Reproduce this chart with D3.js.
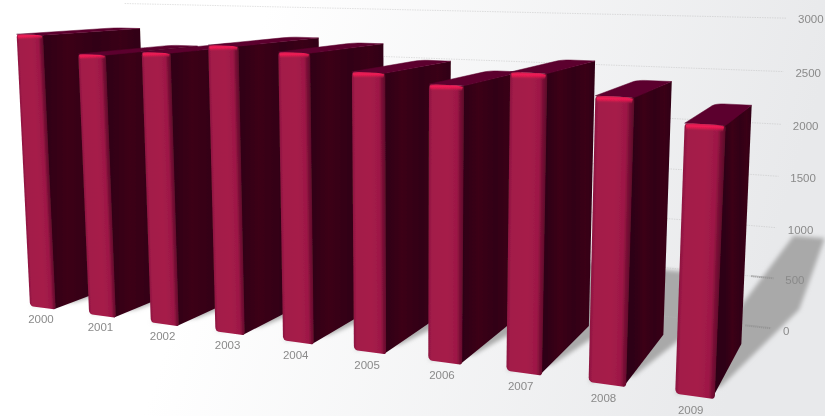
<!DOCTYPE html>
<html>
<head>
<meta charset="utf-8">
<script src="https://cdn.jsdelivr.net/npm/d3@7"></script>
<style>
  body { margin: 0; overflow: hidden; background: #fff; }
  text { font-family: "Liberation Sans", Arial, sans-serif; font-size: 11.5px; fill: #8a8a8a; }
</style>
</head>
<body>
<svg id="chart" width="825" height="416"></svg>
<script>
const years = ["2000", "2001", "2002", "2003", "2004", "2005", "2006", "2007", "2008", "2009"];
const values = [2740, 2572, 2615, 2702, 2664, 2516, 2439, 2571, 2408, 2225];
const ticks = [0, 500, 1000, 1500, 2000, 2500, 3000];
// how far back each floor shadow runs, and how much its far left corner leans
const shadowFar = [2.6, 2.6, 2.6, 2.6, 2.6, 2.6, 2.6, 2.6, 2.6, 4.2];
const shadowLean = [-0.06, -0.06, -0.06, -0.06, -0.06, -0.06, -0.06, -0.06, -0.06, 0.44];

const svg = d3.select("#chart");
const defs = svg.append("defs");

// category index, thousands, depth
const uScale = d3.scalePoint().domain(years).range([0, 9]);
const vScale = d3.scaleLinear().domain([0, 3000]).range([0, 3]);

// camera: a perspective view from low on the right
function project(u, v, d) {
  const w = 1 - 0.0215 * u - 0.01245 * v + 0.119 * d;
  return [
    (30 + 57.17 * u - 5.09 * v + 109.4 * d) / w,
    (306 + 1.28 * u - 99.6 * v - 2.97 * d) / w
  ];
}

const line = d3.line();
const barWidth = 0.44;
const barDepth = 1;
const wallDepth = 1.43;
const wallDrop = 1.5;

// rounded corner in chart space, sampled so it goes through the camera as well
function corner(cx, cy, rx, ry, from) {
  return d3.range(0, 1.01, 0.25).map((t) => {
    const a = from + (t * Math.PI) / 2;
    return [cx + rx * Math.cos(a), cy + ry * Math.sin(a)];
  });
}

// background
const bg = defs.append("linearGradient").attr("id", "bg")
  .attr("gradientUnits", "userSpaceOnUse")
  .attr("x1", 230).attr("y1", 130).attr("x2", 760).attr("y2", 290);
bg.append("stop").attr("offset", 0).attr("stop-color", "#ffffff");
bg.append("stop").attr("offset", 1).attr("stop-color", "#e8e9eb");
svg.append("rect").attr("width", 825).attr("height", 416).attr("fill", "url(#bg)");

defs.append("filter").attr("id", "blur")
  .attr("x", "-20%").attr("y", "-20%").attr("width", "140%").attr("height", "140%")
  .append("feGaussianBlur").attr("stdDeviation", 2.2);
defs.append("filter").attr("id", "soft")
  .append("feGaussianBlur").attr("stdDeviation", 0.4);

// shadows on the floor, thrown back and to the right
svg.append("g").attr("filter", "url(#blur)")
  .selectAll("path").data(years).enter().append("path")
  .attr("fill", "#a9a9a9")
  .attr("d", (y, i) => {
    const u = uScale(y);
    const far = shadowFar[i];
    return line([
      project(u, 0, 0),
      project(u + barWidth, 0, 0.2),
      project(u + 0.98, 0, 1.9),
      project(u + 0.98, 0, far),
      project(u + shadowLean[i], 0, far)
    ]) + "Z";
  });

// gridlines on the back wall
const axisEnd = 9.71;
const axisStart = -0.5;
const wallPoint = (u, t) => {
  const p = project(u, vScale(t), wallDepth);
  return [p[0], p[1] + wallDrop];
};
const gridLayer = svg.append("g").attr("filter", "url(#soft)");
gridLayer.selectAll("line").data(ticks).enter().append("line")
  .attr("stroke", "#b5b5b5")
  .attr("stroke-opacity", 0.4)
  .attr("stroke-dasharray", "1.5 1")
  .attr("x1", (t) => wallPoint(axisStart, t)[0])
  .attr("y1", (t) => wallPoint(axisStart, t)[1])
  .attr("x2", (t) => wallPoint(axisEnd, t)[0])
  .attr("y2", (t) => wallPoint(axisEnd, t)[1]);

// the lower lines go darker where they cross the shadow
const darkTicks = [0, 500];
const darkStarts = [9.37, 9.42];
gridLayer.selectAll("line.dark").data(darkTicks).enter().append("line")
  .attr("class", "dark")
  .attr("stroke", "#8e8e8e")
  .attr("stroke-width", 2)
  .attr("stroke-dasharray", "1 1")
  .attr("x1", (t, i) => wallPoint(darkStarts[i], t)[0])
  .attr("y1", (t, i) => wallPoint(darkStarts[i], t)[1])
  .attr("x2", (t) => wallPoint(axisEnd, t)[0])
  .attr("y2", (t) => wallPoint(axisEnd, t)[1]);

svg.append("g").attr("filter", "url(#soft)")
  .selectAll("text").data(ticks).enter().append("text")
  .attr("x", (t) => wallPoint(axisEnd + 0.15, t)[0])
  .attr("y", (t) => wallPoint(axisEnd + 0.15, t)[1] + 5)
  .text((t) => t);

// bars, left to right so each one covers the side of the one before
const bars = svg.append("g").attr("filter", "url(#soft)")
  .selectAll("g").data(years).enter().append("g");

bars.each(function (y, i) {
  const g = d3.select(this);
  const u0 = uScale(y);
  const u1 = u0 + barWidth;
  const v = vScale(values[i]);
  const du = barWidth;

  // side, starting a little inside the front so the rounded edge leaves no gap
  const sideId = "side-" + i;
  const sideA = project(u1, v, 0);
  const sideB = project(u1, v, barDepth);
  const side = defs.append("linearGradient").attr("id", sideId)
    .attr("gradientUnits", "userSpaceOnUse")
    .attr("x1", sideA[0]).attr("y1", 0).attr("x2", sideB[0]).attr("y2", 0);
  [[0, "#2f0214"], [0.25, "#3c0419"], [0.55, "#320315"], [0.8, "#3a0418"], [1, "#300214"]]
    .forEach((s) => side.append("stop").attr("offset", s[0]).attr("stop-color", s[1]));
  g.append("path").attr("fill", "url(#" + sideId + ")")
    .attr("d", line([project(u1 - 0.03, v, 0), project(u1, v, barDepth), project(u1, 0, barDepth), project(u1 - 0.03, 0, 0)]) + "Z");

  // top
  const topPts = [
    project(u0, v, 0),
    project(u1, v, 0),
    project(u1, v, barDepth),
    ...corner(u0 + 0.1, barDepth - 0.12, 0.1, 0.12, Math.PI / 2).map((p) => project(p[0], v, p[1]))
  ];
  g.append("path").attr("fill", "#5c052e").attr("stroke", "#5c052e").attr("stroke-width", 0.5)
    .attr("d", line(topPts) + "Z");

  // front, darker towards both edges, with rounded corners
  const frontId = "front-" + i;
  const a = project(u0, v / 2, 0);
  const b = project(u1, v / 2, 0);
  const foot = project(u0, 0, 0);
  const head = project(u0, v, 0);
  // gradient vector square to the long edge of the bar
  const len = Math.hypot(head[0] - foot[0], head[1] - foot[1]);
  const nx = -(head[1] - foot[1]) / len;
  const ny = (head[0] - foot[0]) / len;
  const across = (b[0] - a[0]) * nx + (b[1] - a[1]) * ny;
  const front = defs.append("linearGradient").attr("id", frontId)
    .attr("gradientUnits", "userSpaceOnUse")
    .attr("x1", a[0]).attr("y1", a[1])
    .attr("x2", a[0] + nx * across).attr("y2", a[1] + ny * across);
  [[0, "#8c1640"], [0.1, "#a31b49"], [0.55, "#a61c4a"], [0.82, "#9d1846"], [0.91, "#7a0f36"], [1, "#5f0a2b"]]
    .forEach((s) => front.append("stop").attr("offset", s[0]).attr("stop-color", s[1]));

  const outline = [
    ...corner(u0 + 0.05, 0.04, 0.05, 0.04, Math.PI),
    ...corner(u1 - 0.03, 0.03, 0.03, 0.03, 1.5 * Math.PI),
    ...corner(u1 - 0.02, v - 0.02, 0.02, 0.02, 0),
    ...corner(u0 + 0.03, v - 0.03, 0.03, 0.03, Math.PI / 2)
  ];
  g.append("path").attr("fill", "url(#" + frontId + ")")
    .attr("d", line(outline.map((p) => project(p[0], p[1], 0))) + "Z");

  // bright rim under the top edge
  const rimId = "rim-" + i;
  const rimTop = project(u0, v, 0);
  const rimBottom = project(u0, v - 0.06, 0);
  const rim = defs.append("linearGradient").attr("id", rimId)
    .attr("gradientUnits", "userSpaceOnUse")
    .attr("x1", rimTop[0]).attr("y1", rimTop[1]).attr("x2", rimBottom[0]).attr("y2", rimBottom[1]);
  [[0, "#d81a50", 0.8], [0.35, "#f01a55", 1], [0.6, "#e0194f", 0.8], [1, "#a61c4a", 0]]
    .forEach((s) => rim.append("stop").attr("offset", s[0]).attr("stop-color", s[1]).attr("stop-opacity", s[2]));
  const rimPts = [
    [u0 + du * 0.03, v - 0.01], [u0 + du * 0.2, v], [u0 + du * 0.8, v], [u1 - du * 0.04, v - 0.01],
    [u1 - du * 0.06, v - 0.06], [u0 + du * 0.05, v - 0.06]
  ];
  g.append("path").attr("fill", "url(#" + rimId + ")")
    .attr("d", line(rimPts.map((p) => project(p[0], p[1], 0))) + "Z");

  // category label
  const at = project(u0 + 0.18, -0.12, 0);
  g.append("text").attr("x", at[0]).attr("y", at[1] + 4).attr("text-anchor", "middle").text(y);
});
</script>
</body>
</html>
